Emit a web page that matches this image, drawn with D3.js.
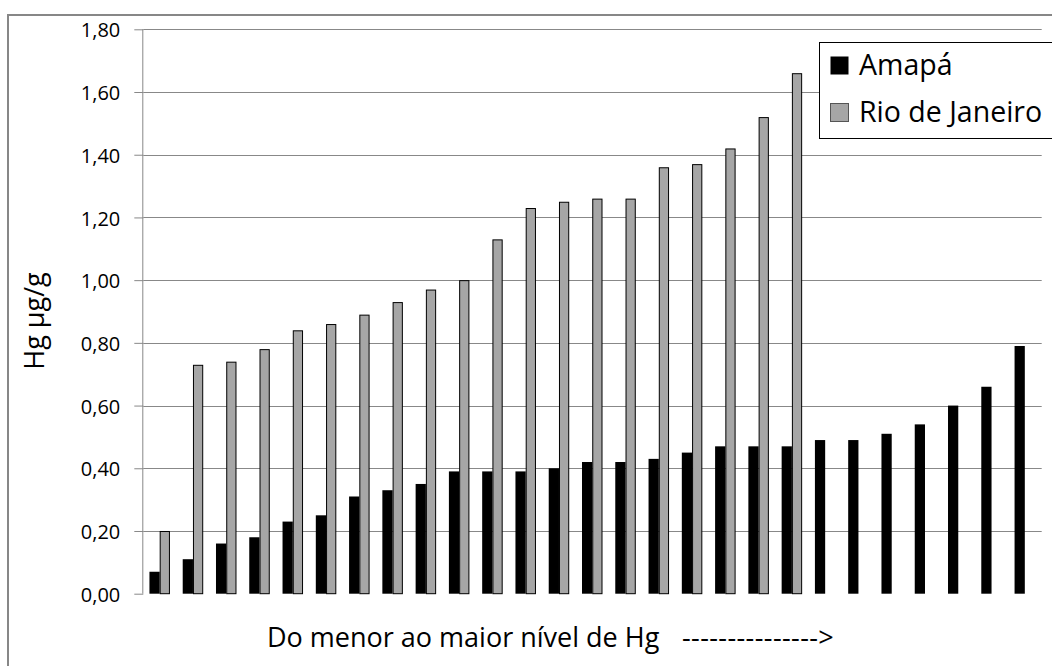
<!DOCTYPE html>
<html>
<head>
<meta charset="utf-8">
<script src="https://cdn.jsdelivr.net/npm/d3@7"></script>
<style>
  html, body { margin: 0; padding: 0; background: #fff; }
  svg { display: block; }
  text { font-family: "Open Sans", "Noto Sans", sans-serif; fill: #000; }
</style>
</head>
<body>
<svg id="chart" width="1052" height="666"></svg>
<script>
// ---- data ----
const seriesNames = ["Amapá", "Rio de Janeiro"];
const amapa = [0.07, 0.11, 0.16, 0.18, 0.23, 0.25, 0.31, 0.33, 0.35, 0.39, 0.39, 0.39, 0.40, 0.42,
               0.42, 0.43, 0.45, 0.47, 0.47, 0.47, 0.49, 0.49, 0.51, 0.54, 0.60, 0.66, 0.79];
const rioDeJaneiro = [0.20, 0.73, 0.74, 0.78, 0.84, 0.86, 0.89, 0.93, 0.97, 1.00, 1.13, 1.23, 1.25,
                      1.26, 1.26, 1.36, 1.37, 1.42, 1.52, 1.66];
const categories = d3.range(1, amapa.length + 1);
const yTicks = [0, 0.2, 0.4, 0.6, 0.8, 1.0, 1.2, 1.4, 1.6, 1.8];
const yTitle = "Hg µg/g";
const xTitleText = "Do menor ao maior nível de Hg";
const xTitleArrow = "--------------->";
const colors = ["#000000", "#a6a6a6"];

// ---- layout ----
const svg = d3.select("#chart");
const plot = { left: 143.3, right: 1041.7, top: 29.3, bottom: 593.7 };

// outer chart border
svg.append("rect")
  .attr("x", 8).attr("y", 15).attr("width", 1100).attr("height", 700)
  .attr("fill", "none").attr("stroke", "#878787").attr("stroke-width", 2);

const y = d3.scaleLinear().domain([0, 1.8]).range([plot.bottom, plot.top]);
const x0 = d3.scaleBand().domain(categories).range([plot.left, plot.right]).padding(0);
const bw = x0.bandwidth();
const x1 = d3.scaleBand().domain(seriesNames).range([bw / 2 - 10.5, bw / 2 + 10]).padding(0);

// gridlines
svg.append("g")
  .selectAll("line")
  .data(yTicks.filter(d => d > 0))
  .join("line")
  .attr("x1", plot.left).attr("x2", plot.right)
  .attr("y1", d => Math.round(y(d)) + 0.5).attr("y2", d => Math.round(y(d)) + 0.5)
  .attr("stroke", "#888").attr("stroke-width", 1);

// y axis
const yAxis = d3.axisLeft(y).tickValues(yTicks).tickSize(9).tickPadding(14)
  .tickFormat(d => d3.format(".2f")(d).replace(".", ","));
const gy = svg.append("g").attr("transform", `translate(${plot.left},0)`).call(yAxis);
gy.select(".domain").attr("stroke", "#888").attr("d", `M-0.5,${plot.top}V${plot.bottom}`);
gy.selectAll(".tick line").attr("stroke", "#888");
gy.selectAll(".tick text")
  .attr("font-family", "Open Sans").attr("font-size", 20).attr("fill", "#222")
  .attr("dy", "0.38em");

// bars
const groups = svg.append("g").selectAll("g")
  .data(categories)
  .join("g")
  .attr("transform", d => `translate(${x0(d)},0)`);

groups.append("rect")
  .attr("x", x1("Amapá"))
  .attr("width", x1.bandwidth())
  .attr("y", (d, i) => y(amapa[i]))
  .attr("height", (d, i) => y(0) - y(amapa[i]))
  .attr("fill", colors[0]);

groups.filter((d, i) => i < rioDeJaneiro.length)
  .append("rect")
  .attr("x", x1("Rio de Janeiro") + 0.5)
  .attr("width", x1.bandwidth() - 1)
  .attr("y", (d, i) => y(rioDeJaneiro[i]) + 0.5)
  .attr("height", (d, i) => y(0) - y(rioDeJaneiro[i]) - 0.5)
  .attr("fill", colors[1])
  .attr("stroke", "#000").attr("stroke-width", 1);

// y title
svg.append("text")
  .attr("transform", "translate(44,321) rotate(-90)")
  .attr("text-anchor", "middle")
  .attr("font-size", 27)
  .text(yTitle);

// x title
const xt = svg.append("text")
  .attr("x", 267).attr("y", 647)
  .attr("font-size", 27);
xt.append("tspan").text(xTitleText);
xt.append("tspan").attr("x", 682).attr("letter-spacing", 0.4).text(xTitleArrow);

// legend
const lg = svg.append("g");
lg.append("rect")
  .attr("x", 819.5).attr("y", 42.5).attr("width", 300).attr("height", 96)
  .attr("fill", "#fff").attr("stroke", "#000").attr("stroke-width", 1);
const items = lg.selectAll("g.item").data(seriesNames).join("g")
  .attr("class", "item")
  .attr("transform", (d, i) => `translate(0,${i * 47})`);
items.append("rect")
  .attr("x", 830.5).attr("y", 56.5).attr("width", 18).attr("height", 18)
  .attr("fill", (d, i) => colors[i])
  .attr("stroke", (d, i) => i === 0 ? "none" : "#555").attr("stroke-width", 1);
items.append("text")
  .attr("x", 859).attr("y", 75)
  .attr("font-size", 28.5)
  .text(d => d);
</script>
</body>
</html>
